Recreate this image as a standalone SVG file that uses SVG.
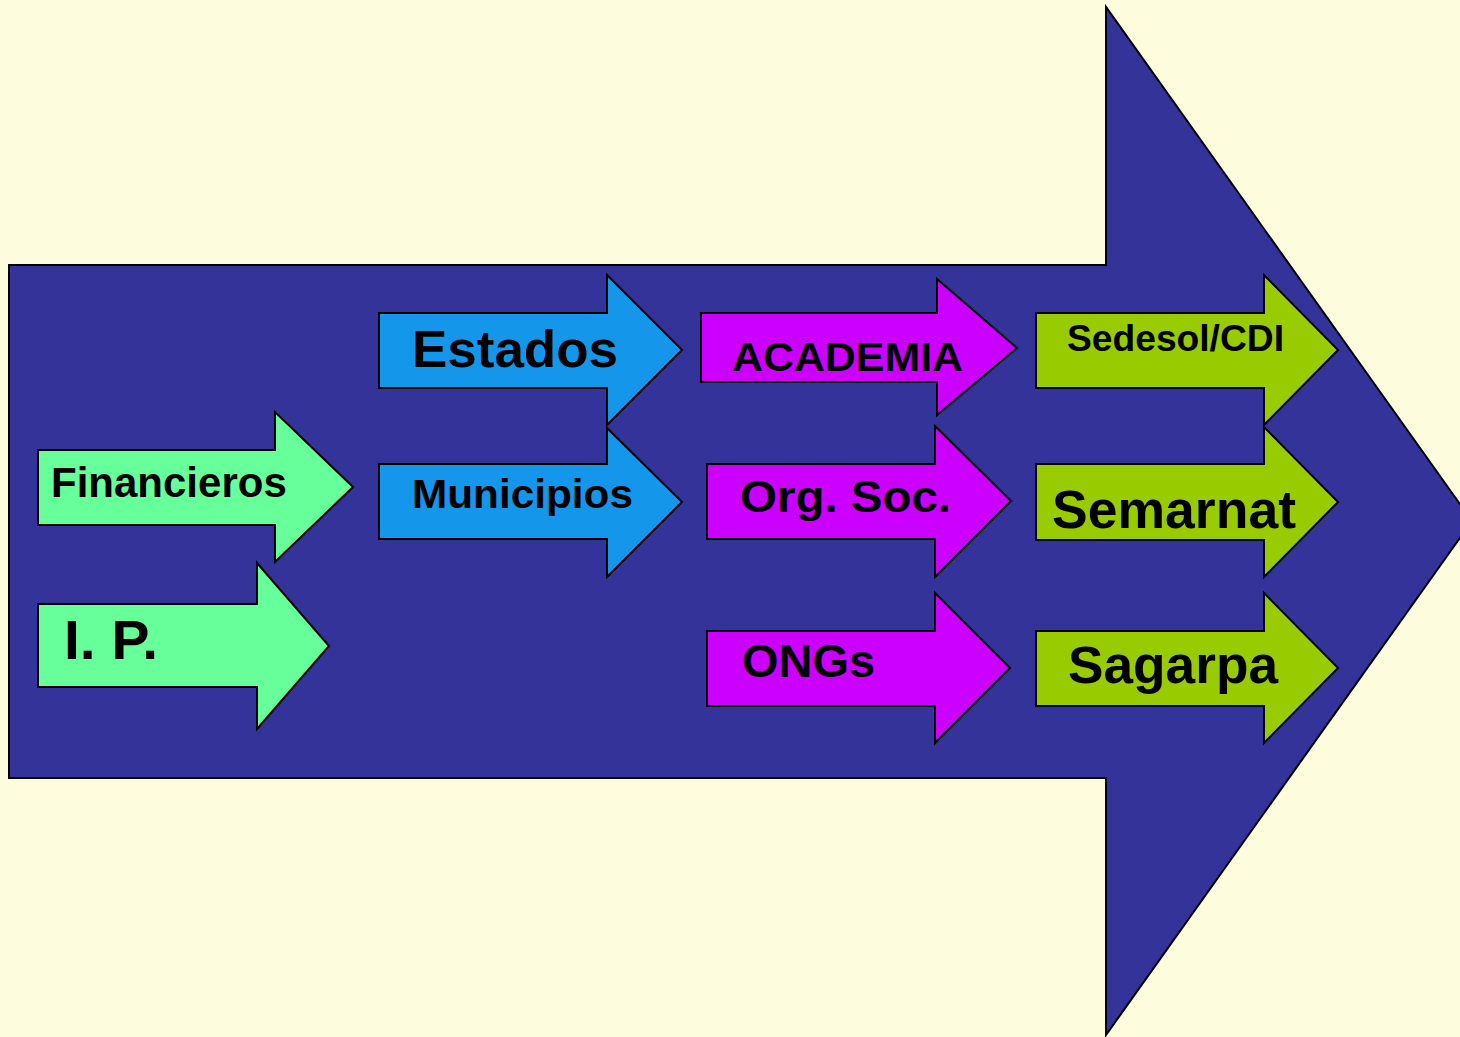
<svg xmlns="http://www.w3.org/2000/svg" width="1460" height="1037" viewBox="0 0 1460 1037">
<style>
.arr{stroke:#000;stroke-width:2;stroke-linejoin:miter}
.green{fill:#66FF99}
.blue{fill:#1496EA}
.mag{fill:#CC00FF}
.lime{fill:#99CC00}
.lbl{font-family:"Liberation Sans",Arial,sans-serif;font-weight:bold;fill:#000}
</style>
<rect x="0" y="0" width="1460" height="1037" fill="#FDFCDC"/>
<g id="main-arrow">
<polygon points="9,265 1106,265 1106,7 1472,521 1106,1035 1106,778 9,778" fill="#333399" stroke="#000" stroke-width="2"/>
</g>
<g id="connectors"></g>
<g id="financieros">
<polygon class="arr green" points="38,450 275,450 275,412 353,487 275,562 275,525 38,525"/>
<text class="lbl" x="51" y="497" font-size="42">Financieros</text>
</g>
<g id="ip">
<polygon class="arr green" points="38,604 257,604 257,563 329,646 257,729 257,687 38,687"/>
<text class="lbl" x="64" y="659" font-size="55" textLength="94" lengthAdjust="spacingAndGlyphs">I. P.</text>
</g>
<g id="estados">
<polygon class="arr blue" points="379,313 607,313 607,275 682,350 607,425 607,388 379,388"/>
<text class="lbl" x="412" y="367" font-size="52" textLength="206" lengthAdjust="spacingAndGlyphs">Estados</text>
</g>
<g id="municipios">
<polygon class="arr blue" points="379,464 607,464 607,428 682,502 607,577 607,539 379,539"/>
<text class="lbl" x="412" y="508" font-size="41" textLength="221" lengthAdjust="spacingAndGlyphs">Municipios</text>
</g>
<g id="academia">
<polygon class="arr mag" points="701,313 937,313 937,279 1017,348 937,415 937,382 701,382"/>
<text class="lbl" x="732" y="371" font-size="41" textLength="231" lengthAdjust="spacingAndGlyphs">ACADEMIA</text>
</g>
<g id="orgsoc">
<polygon class="arr mag" points="707,464 935,464 935,426 1011,501 935,577 935,539 707,539"/>
<text class="lbl" x="740" y="512" font-size="45" textLength="211" lengthAdjust="spacingAndGlyphs">Org. Soc.</text>
</g>
<g id="ongs">
<polygon class="arr mag" points="707,631 935,631 935,593 1010,668 935,743 935,706 707,706"/>
<text class="lbl" x="742" y="677" font-size="46" textLength="133" lengthAdjust="spacingAndGlyphs">ONGs</text>
</g>
<g id="sedesol">
<polygon class="arr lime" points="1036,313 1264,313 1264,275 1338,350 1264,425 1264,388 1036,388"/>
<text class="lbl" x="1067" y="351" font-size="36" textLength="217" lengthAdjust="spacingAndGlyphs">Sedesol/CDI</text>
</g>
<g id="semarnat">
<polygon class="arr lime" points="1036,464 1264,464 1264,427 1338,502 1264,577 1264,540 1036,540"/>
<text class="lbl" x="1052" y="528" font-size="53" textLength="244" lengthAdjust="spacingAndGlyphs">Semarnat</text>
</g>
<g id="sagarpa">
<polygon class="arr lime" points="1036,631 1264,631 1264,593 1338,668 1264,743 1264,706 1036,706"/>
<text class="lbl" x="1068" y="683" font-size="51" textLength="210" lengthAdjust="spacingAndGlyphs">Sagarpa</text>
</g>
</svg>
